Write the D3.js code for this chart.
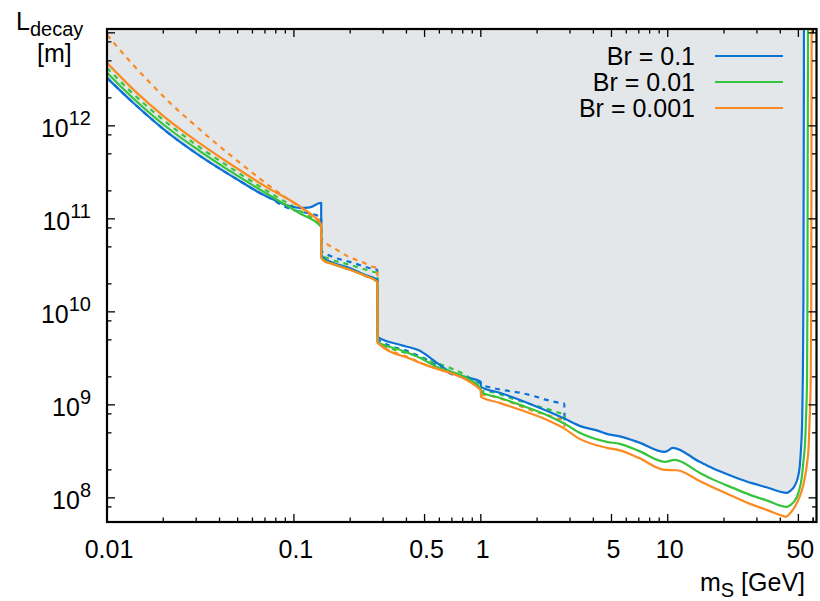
<!DOCTYPE html>
<html>
<head>
<meta charset="utf-8">
<script src="https://cdn.jsdelivr.net/npm/d3@7"></script>
<style>
  body { margin: 0; background: #fff; }
  svg { display: block; }
  text { font-family: "Liberation Sans", Arial, Helvetica, sans-serif; fill: #000; }
</style>
</head>
<body>
<svg id="chart" width="820" height="601"></svg>
<script>
// Decay-length reach versus scalar mass, for three branching ratios.
const seriesLabels = ["Br = 0.1", "Br = 0.01", "Br = 0.001"];
const seriesColors = ["#0c72d6", "#36c43c", "#fb8a22"];

const xTickValues = [0.01, 0.1, 0.5, 1, 5, 10, 50];
const xTickLabels = ["0.01", "0.1", "0.5", "1", "5", "10", "50"];
const yTickExponents = [8, 9, 10, 11, 12];
const yMinorMultipliers = [2, 5, 8];

// [m_S in GeV, L_decay in m] — solid curves
const solidBr01 = [
  [0.01,3.28e12],[0.0138,1.77e12],[0.0209,8.62e11],[0.0314,4.76e11],[0.0472,2.83e11],
  [0.0658,1.90e11],[0.0772,1.62e11],[0.0917,1.40e11],[0.108,1.31e11],[0.122,1.33e11],[0.1399,1.49e11],
  [0.1401,4.2e10],[0.146,3.7e10],[0.16,3.4e10],[0.2,2.95e10],[0.24,2.5e10],[0.2795,2.21e10],
  [0.2805,5.38e9],[0.369,4.42e9],[0.472,3.81e9],[0.554,3.05e9],[0.658,2.38e9],[0.82,2.0e9],[0.999,1.77e9],
  [1.001,1.56e9],[1.26,1.35e9],[1.62,1.13e9],[2.25,8.62e8],[2.81,7.07e8],[3.38,5.94e8],[4.33,5.19e8],
  [4.72,4.87e8],[5.54,4.58e8],[7.0,3.95e8],[9.64,3.12e8],[10.0,3.2e8],[10.6,3.45e8],[14.8,2.44e8],
  [17.4,2.08e8],[22.3,1.70e8],[28.5,1.43e8],[33.8,1.30e8],[43.3,1.13e8],[45.5,1.20e8],[47.8,1.35e8],
  [49.6,1.64e8],[50.8,2.15e8],[51.6,3.28e8],[52.4,6.9e8],[52.8,1.85e9],[53.2,1.35e10],[53.6,2e13]
];
const solidBr001 = [
  [0.01,3.72e12],[0.0138,1.98e12],[0.0209,9.66e11],[0.0314,5.36e11],[0.0472,3.12e11],
  [0.0717,1.86e11],[0.108,1.14e11],[0.138,8.45e10],[0.1399,8.2e10],
  [0.1401,3.9e10],[0.146,3.55e10],[0.16,3.3e10],[0.2,2.83e10],[0.24,2.45e10],[0.2795,2.10e10],
  [0.2805,4.76e9],[0.369,3.91e9],[0.472,3.2e9],[0.554,2.69e9],[0.999,1.52e9],
  [1.001,1.38e9],[1.26,1.19e9],[1.62,1.0e9],[2.25,7.8e8],[2.81,6.25e8],[3.38,5.0e8],[4.72,4.0e8],
  [5.54,3.81e8],[7.0,3.2e8],[9.64,2.44e8],[10.9,2.56e8],[14.8,1.86e8],[17.4,1.58e8],[22.3,1.28e8],
  [28.5,1.05e8],[33.8,9.4e7],[43.3,8.0e7],[45.5,8.4e7],[47.8,9.3e7],[50.2,1.16e8],[52.1,1.64e8],
  [53.3,2.56e8],[54.4,4.21e8],[55.0,7.8e8],[55.6,1.86e9],[55.9,1.35e10],[56.3,2e13]
];
const solidBr0001 = [
  [0.01,4.76e12],[0.0138,2.47e12],[0.0209,1.19e12],[0.0314,6.48e11],[0.0472,3.72e11],
  [0.0717,2.18e11],[0.108,1.35e11],[0.138,9.06e10],[0.1399,8.73e10],
  [0.1401,3.81e10],[0.146,3.5e10],[0.16,3.28e10],[0.2,2.83e10],[0.24,2.45e10],[0.2795,2.10e10],
  [0.2805,4.64e9],[0.433,3.05e9],[0.472,2.83e9],[0.999,1.45e9],
  [1.001,1.22e9],[1.26,1.05e9],[1.62,8.84e8],[2.25,6.9e8],[2.81,5.52e8],[3.38,4.31e8],[4.72,3.45e8],
  [5.54,3.24e8],[7.0,2.69e8],[9.64,2.0e8],[11.2,1.98e8],[14.8,1.52e8],[17.4,1.30e8],[22.3,1.04e8],
  [28.5,8.4e7],[33.8,7.43e7],[41.2,6.4e7],[42.8,6.25e7],[44.9,6.73e7],[47.8,8.0e7],[50.8,1.03e8],
  [53.3,1.41e8],[55.3,2.15e8],[56.8,3.72e8],[57.4,6.9e8],[58.2,1.85e9],[58.6,1.35e10],[58.9,2e13]
];

// dashed curves
const dashedBr01 = [
  [0.01,3.28e12],[0.0138,1.77e12],[0.0209,8.62e11],[0.0314,4.76e11],[0.0472,2.83e11],[0.0658,1.90e11],
  [0.0772,1.60e11],[0.0873,1.38e11],[0.0988,1.25e11],[0.114,1.17e11],[0.133,1.09e11],[0.1399,1.05e11],
  [0.1401,4.5e10],[0.156,4.0e10],[0.199,3.45e10],[0.264,2.9e10],[0.2795,2.83e10],
  [0.2805,5.1e9],[0.417,3.7e9],[0.554,2.83e9],[0.658,2.26e9],[0.999,1.70e9],
  [1.001,1.66e9],[1.16,1.52e9],[1.38,1.42e9],[1.62,1.35e9],[1.90,1.25e9],[2.25,1.13e9],[2.64,1.05e9],
  [2.795,1.03e9],[2.805,7.1e8]
];
const dashedBr001 = [
  [0.01,4.20e12],[0.0138,2.21e12],[0.0209,1.08e12],[0.0314,5.87e11],[0.0472,3.41e11],[0.0717,2.00e11],
  [0.108,1.22e11],[0.138,8.73e10],[0.1399,8.5e10],
  [0.1401,4.1e10],[0.16,3.63e10],[0.2,3.2e10],[0.264,2.7e10],[0.2795,2.63e10],
  [0.2805,4.8e9],[0.472,3.25e9],[0.999,1.55e9],
  [1.001,1.42e9],[1.19,1.35e9],[1.38,1.22e9],[1.62,1.10e9],[1.90,1.0e9],[2.25,9.06e8],[2.64,8.2e8],
  [2.795,8.0e8],[2.805,6.25e8]
];
const dashedBr0001 = [
  [0.01,9.52e12],[0.0138,4.53e12],[0.0170,2.90e12],[0.0217,1.77e12],[0.0278,1.13e12],[0.0356,7.34e11],
  [0.0455,4.88e11],[0.0582,3.28e11],[0.0744,2.24e11],[0.0917,1.66e11],[0.108,1.33e11],[0.133,1.0e11],
  [0.1399,9.52e10],
  [0.1401,6.2e10],[0.146,5.66e10],[0.170,4.64e10],[0.199,3.85e10],[0.231,3.45e10],[0.264,3.05e10],
  [0.2795,2.97e10],
  [0.2805,4.7e9],[0.433,3.1e9],[0.472,2.86e9],[0.999,1.47e9],
  [1.001,1.3e9],[1.19,1.22e9],[1.38,1.1e9],[1.62,9.75e8],[1.90,8.62e8],[2.25,7.8e8],[2.64,7.07e8],
  [2.795,6.9e8],[2.805,5.52e8]
];

const solidSeries = [solidBr01, solidBr001, solidBr0001];
const dashedSeries = [dashedBr01, dashedBr001, dashedBr0001];

const svg = d3.select("#chart");
const plot = { left: 107, top: 29, right: 816.5, bottom: 522 };

const x = d3.scaleLog().domain([0.01, 62.5]).range([plot.left, plot.right]);
const y = d3.scaleLog().domain([5.5e7, 1.1e13]).range([plot.bottom, plot.top]);

svg.append("defs").append("clipPath").attr("id", "plotClip")
  .append("rect")
  .attr("x", plot.left).attr("y", plot.top)
  .attr("width", plot.right - plot.left).attr("height", plot.bottom - plot.top);

const body = svg.append("g").attr("clip-path", "url(#plotClip)");

// shaded region above the Br = 0.1 reach
const area = d3.area()
  .x(d => x(d[0]))
  .y0(plot.top - 5)
  .y1(d => y(d[1]))
  .curve(d3.curveMonotoneX);
body.append("path").datum(solidBr01)
  .attr("d", area)
  .attr("fill", "#e4e7ea");

const line = d3.line()
  .x(d => x(d[0]))
  .y(d => y(d[1]))
  .curve(d3.curveMonotoneX);

dashedSeries.forEach((s, i) => {
  body.append("path").datum(s)
    .attr("d", line)
    .attr("fill", "none")
    .attr("stroke", seriesColors[i])
    .attr("stroke-width", 2.2)
    .attr("stroke-dasharray", "5,5");
});
solidSeries.forEach((s, i) => {
  body.append("path").datum(s)
    .attr("d", line)
    .attr("fill", "none")
    .attr("stroke", seriesColors[i])
    .attr("stroke-width", 2.2)
    .attr("stroke-linejoin", "round");
});

// ticks on all four sides, pointing inward
const majorLen = 8, minorLen = 4.5;
const ticks = svg.append("g").attr("stroke", "#000").attr("stroke-width", 1.3);

const xMinor = [];
for (let e = -2; e <= 1; e++) {
  for (let k = 1; k <= 9; k++) {
    const v = k * Math.pow(10, e);
    if (v >= 0.01 && v <= 62.5 && !xTickValues.some(t => Math.abs(t - v) / v < 1e-6)) xMinor.push(v);
  }
}
xMinor.push(60);
xTickValues.forEach(v => {
  ticks.append("line").attr("x1", x(v)).attr("x2", x(v)).attr("y1", plot.bottom).attr("y2", plot.bottom - majorLen);
  ticks.append("line").attr("x1", x(v)).attr("x2", x(v)).attr("y1", plot.top).attr("y2", plot.top + majorLen);
});
xMinor.forEach(v => {
  ticks.append("line").attr("x1", x(v)).attr("x2", x(v)).attr("y1", plot.bottom).attr("y2", plot.bottom - minorLen);
  ticks.append("line").attr("x1", x(v)).attr("x2", x(v)).attr("y1", plot.top).attr("y2", plot.top + minorLen);
});

const yMajor = [1e8, 1e9, 1e10, 1e11, 1e12, 1e13];
const yMinor = [];
for (let e = 7; e <= 12; e++) {
  yMinorMultipliers.forEach(k => {
    const v = k * Math.pow(10, e);
    if (v >= 5.5e7 && v <= 1.1e13) yMinor.push(v);
  });
}
yMajor.forEach(v => {
  ticks.append("line").attr("y1", y(v)).attr("y2", y(v)).attr("x1", plot.left).attr("x2", plot.left + majorLen);
  ticks.append("line").attr("y1", y(v)).attr("y2", y(v)).attr("x1", plot.right).attr("x2", plot.right - majorLen);
});
yMinor.forEach(v => {
  ticks.append("line").attr("y1", y(v)).attr("y2", y(v)).attr("x1", plot.left).attr("x2", plot.left + minorLen);
  ticks.append("line").attr("y1", y(v)).attr("y2", y(v)).attr("x1", plot.right).attr("x2", plot.right - minorLen);
});

// frame
svg.append("rect")
  .attr("x", plot.left).attr("y", plot.top)
  .attr("width", plot.right - plot.left).attr("height", plot.bottom - plot.top)
  .attr("fill", "none").attr("stroke", "#000").attr("stroke-width", 2.2);

// tick labels
const fontMain = 25, fontSmall = 20;
xTickValues.forEach((v, i) => {
  svg.append("text")
    .attr("x", x(v) + 2).attr("y", 558)
    .attr("text-anchor", "middle")
    .attr("font-size", fontMain)
    .text(xTickLabels[i]);
});
yTickExponents.forEach(e => {
  const t = svg.append("text")
    .attr("x", 91).attr("y", y(Math.pow(10, e)) + 11)
    .attr("text-anchor", "end")
    .attr("font-size", fontMain);
  t.append("tspan").text("10");
  t.append("tspan").attr("font-size", fontSmall).attr("dy", -12).text(String(e));
});

// axis titles
const yTitle = svg.append("text").attr("x", 16).attr("y", 30).attr("font-size", fontMain);
yTitle.append("tspan").text("L");
yTitle.append("tspan").attr("font-size", fontSmall).attr("dy", 6).text("decay");
svg.append("text").attr("x", 37).attr("y", 62).attr("font-size", fontMain).text("[m]");

const xTitle = svg.append("text").attr("x", 700).attr("y", 591).attr("font-size", fontMain);
xTitle.append("tspan").text("m");
xTitle.append("tspan").attr("font-size", fontSmall).attr("dy", 6).text("S");
xTitle.append("tspan").attr("dy", -6).text(" [GeV]");

// legend
const legendRows = [56, 82, 108];
seriesLabels.forEach((lab, i) => {
  svg.append("text")
    .attr("x", 695).attr("y", legendRows[i] + 9)
    .attr("text-anchor", "end")
    .attr("font-size", fontMain)
    .text(lab);
  svg.append("line")
    .attr("x1", 715).attr("x2", 783)
    .attr("y1", legendRows[i]).attr("y2", legendRows[i])
    .attr("stroke", seriesColors[i]).attr("stroke-width", 2.2);
});
</script>
</body>
</html>
